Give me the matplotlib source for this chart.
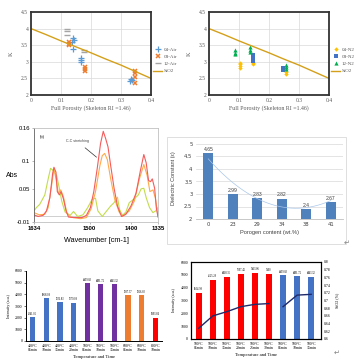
import numpy as np
import matplotlib.pyplot as plt
from matplotlib.patches import Rectangle

W, H = 358, 364

# --- top panels: K vs porosity ---
sio2_x = [0, 0.05, 0.1, 0.15, 0.2, 0.25, 0.3, 0.35, 0.4]
sio2_k = [4.0, 3.82, 3.63, 3.45, 3.27, 3.08, 2.9, 2.7, 2.5]

air04_x = [0.14, 0.142, 0.138, 0.14, 0.165, 0.167, 0.165, 0.333, 0.336, 0.33]
air04_k = [3.72, 3.65, 3.6, 3.4, 3.12, 3.05, 2.98, 2.47, 2.44, 2.41]
air08_x = [0.125, 0.127, 0.125, 0.18, 0.18, 0.18, 0.345, 0.345, 0.345, 0.345]
air08_k = [3.6, 3.55, 3.5, 2.85, 2.78, 2.72, 2.72, 2.65, 2.55, 2.35]
air12_x = [0.12, 0.12, 0.12, 0.178, 0.178]
air12_k = [3.98, 3.93, 3.82, 3.35, 3.3]

n04_x = [0.102, 0.102, 0.102, 0.102, 0.145, 0.145, 0.145, 0.255, 0.255]
n04_k = [2.97, 2.92, 2.86, 2.8, 2.98, 2.95, 2.92, 2.7, 2.64]
n08_x = [0.148, 0.148, 0.148, 0.245, 0.245]
n08_k = [3.2, 3.1, 3.03, 2.8, 2.74]
n12_x = [0.088, 0.088, 0.088, 0.138, 0.138, 0.138, 0.255, 0.255, 0.255]
n12_k = [3.35, 3.28, 3.22, 3.44, 3.36, 3.3, 2.9, 2.83, 2.77]

# --- FTIR spectrum ---
red_wn = [1634, 1624.2, 1612.0, 1603.9, 1595.7, 1589.2, 1585.9, 1581.0, 1577.8, 1572.9,
          1568.8, 1563.1, 1556.6, 1550.9, 1538.7, 1518.3, 1507.7, 1498.0, 1489.8, 1481.7,
          1473.5, 1467.0, 1461.3, 1455.6, 1449.1, 1440.9, 1432.8, 1423.0, 1412.4, 1400.2,
          1388.0, 1377.4, 1369.2, 1363.5, 1357.8, 1352.9, 1348.8, 1343.1, 1339.1, 1335]
red_abs = [0.003, 0.0, 0.002, 0.010, 0.034, 0.077, 0.089, 0.080, 0.045, 0.039,
           0.045, 0.032, 0.010, -0.001, -0.002, -0.002, 0.002, 0.016, 0.045, 0.086,
           0.132, 0.154, 0.141, 0.126, 0.092, 0.051, 0.019, 0.0, 0.004, 0.019,
           0.042, 0.083, 0.112, 0.097, 0.065, 0.063, 0.068, 0.051, 0.016, -0.001]
org_wn = [1634, 1621.8, 1607.9, 1599.8, 1591.6, 1585.9, 1581.0, 1575.3, 1569.6, 1563.1,
          1555.0, 1546.8, 1522.4, 1507.7, 1496.3, 1485.7, 1475.1, 1469.4, 1463.7, 1457.2,
          1449.1, 1439.3, 1428.7, 1420.5, 1404.3, 1392.0, 1379.8, 1369.2, 1361.1, 1354.5,
          1347.2, 1341.5, 1335]
org_abs = [0.007, 0.003, 0.004, 0.016, 0.056, 0.087, 0.068, 0.042, 0.048, 0.036,
           0.007, -0.001, -0.004, -0.002, 0.014, 0.045, 0.092, 0.110, 0.114, 0.103,
           0.068, 0.031, 0.008, 0.0, 0.010, 0.028, 0.068, 0.094, 0.074, 0.045,
           0.048, 0.034, 0.0]
grn_wn = [1634, 1628.3, 1620.1, 1607.9, 1599.8, 1594.1, 1587.6, 1579.4, 1572.9, 1567.2,
          1559.0, 1546.8, 1538.7, 1528.9, 1515.9, 1504.5, 1493.9, 1485.7, 1480.0, 1469.4,
          1458.8, 1449.1, 1440.9, 1432.8, 1427.9, 1420.5, 1412.4, 1404.3, 1392.0, 1382.3,
          1375.7, 1369.2, 1363.5, 1355.4, 1347.2, 1340.7, 1335]
grn_abs = [0.010, 0.016, 0.022, 0.039, 0.068, 0.087, 0.083, 0.074, 0.051, 0.028,
           0.008, 0.002, 0.009, 0.0, 0.003, 0.016, 0.031, 0.033, 0.010, 0.0,
           0.010, 0.019, 0.025, 0.035, 0.013, 0.002, 0.008, 0.025, 0.032, 0.039,
           0.050, 0.051, 0.034, 0.016, 0.007, 0.010, 0.016]

# --- dielectric constant bars ---
porogen = ['0', '23', '29', '34', '38', '41']
dielec = [4.65, 2.99, 2.83, 2.82, 2.4, 2.67]

# --- intensity bars ---
cond5 = ['400°C\n05min', '400°C\n10min', '400°C\n15min', '400°C\n20min', '500°C\n05min',
         '500°C\n10min', '500°C\n15min', '600°C\n05min', '600°C\n10min', '800°C\n10min']
inten5 = [2041.05, 3668.08, 3336.83, 3279.08, 4959.83, 4891.72, 4843.32, 3937.37, 3926.83, 1993.84]
col5 = ['#4472c4'] * 4 + ['#7030a0'] * 3 + ['#ed7d31'] * 2 + ['#ff0000']

cond6 = ['500°C\n05min', '500°C\n10min', '500°C\n15min', '500°C\n20min', '500°C\n25min',
         '500°C\n30min', '500°C\n05min', '500°C\n10min', '500°C\n15min']
inten6 = [3604.99, 4625.29, 4868.35, 5097.46, 5163.86, 5100, 4959.83, 4891.72, 4843.32]
col6 = ['#ff0000'] * 6 + ['#4472c4'] * 3
ratio_a = [0.628, 0.66, 0.671, 0.684, 0.69, 0.692]
ratio_b = [0.684, 0.714, 0.716]


def box(l, t, r, b):
    return [l / W, 1 - b / H, (r - l) / W, (b - t) / H]


fig = plt.figure(figsize=(W / 100, H / 100), dpi=100)
serif = 'Liberation Serif'
sans = 'Liberation Sans'
grey = '#595959'


def k_panel(rect, series, legend_x):
    ax = fig.add_axes(rect)
    ax.grid(True, color='#d9d9d9', lw=0.5)
    ax.set_axisbelow(True)
    for x, y, kw in series:
        ax.plot(x, y, ls='none', **kw)
    ax.plot(sio2_x, sio2_k, color='#d4a019', lw=1.0, label='SiO2')
    ax.set_xlim(0, 0.4)
    ax.set_ylim(2, 4.5)
    ax.set_xticks([0, 0.1, 0.2, 0.3, 0.4])
    ax.set_xticklabels(['0', '0.1', '0.2', '0.3', '0.4'])
    ax.set_yticks([2, 2.5, 3, 3.5, 4, 4.5])
    ax.set_yticklabels(['2', '2.5', '3', '3.5', '4', '4.5'])
    ax.tick_params(length=0, pad=2, labelsize=4, labelcolor=grey)
    for lab in ax.get_xticklabels() + ax.get_yticklabels():
        lab.set_family(serif)
    for s in ax.spines.values():
        s.set_color('#333333')
        s.set_linewidth(1.3)
    ax.set_xlabel('Full Porosity (Skeleton RI =1.46)', fontsize=4.2, family=serif,
                  color=grey, labelpad=2)
    ax.set_ylabel('K', fontsize=4.5, family=serif, color=grey, labelpad=5)
    ax.legend(loc='center left', bbox_to_anchor=(legend_x, 0.42), frameon=False,
              prop={'family': serif, 'size': 3.6}, labelcolor=grey,
              handlelength=1.8, handletextpad=0.3, labelspacing=0.55, borderaxespad=0)
    return ax


k_panel(box(31, 12, 151, 95), [
    (air04_x, air04_k, dict(marker='+', color='#5b9bd5', ms=4, mew=0.9, label='04-Air')),
    (air08_x, air08_k, dict(marker='x', color='#ed7d31', ms=3.5, mew=1.1, label='08-Air')),
    (air12_x, air12_k, dict(marker='_', color='#a5a5a5', ms=4, mew=1.0, label='12-Air')),
], 1.0)

k_panel(box(209, 12, 329, 95), [
    (n04_x, n04_k, dict(marker='D', color='#ffc000', ms=2.2, mew=0, label='04-N2')),
    (n08_x, n08_k, dict(marker='s', color='#4472c4', ms=3.5, mew=0, label='08-N2')),
    (n12_x, n12_k, dict(marker='^', color='#00b050', ms=3, mew=0, label='12-N2')),
], 1.0)

# FTIR
ax3 = fig.add_axes(box(34, 128, 158, 222))
ax3.axhline(0, color='#c8c8c8', lw=0.6)
ax3.plot(grn_wn, grn_abs, color='#c3dc4c', lw=0.8)
ax3.plot(org_wn, org_abs, color='#ffab4a', lw=0.8)
ax3.plot(red_wn, red_abs, color='#f45b5b', lw=0.8)
ax3.set_xlim(1634, 1335)
ax3.set_ylim(-0.01, 0.16)
ax3.set_xticks([1634, 1500, 1400, 1335])
ax3.set_yticks([-0.01, 0.05, 0.1, 0.16])
ax3.set_yticklabels(['-0.01', '0.05', '0.1', '0.16'])
ax3.tick_params(length=1.5, width=0.4, pad=1.5, labelsize=4.2, color='#808080')
for lab in ax3.get_xticklabels() + ax3.get_yticklabels():
    lab.set_family(sans)
for lab in ax3.get_xticklabels():
    lab.set_fontweight('bold')
for s in ax3.spines.values():
    s.set_color('#c0c0c0')
    s.set_linewidth(0.6)
ax3.spines['left'].set_color('#606060')
ax3.set_ylabel('Abs', fontsize=5, family=sans, rotation=0, labelpad=3, va='center')
ax3.set_xlabel('Wavenumber [cm-1]', fontsize=5.2, family=sans, labelpad=4)
ax3.text(0.05, 0.93, '(b)', transform=ax3.transAxes, fontsize=3, family=sans, va='top')
ax3.annotate('C-C stretching', xy=(1478, 0.104), xytext=(1530, 0.136),
             fontsize=2.6, family=sans, color='#404040', ha='center', va='center',
             arrowprops=dict(arrowstyle='-', color='#303030', lw=0.5))

# dielectric constant
fig.add_artist(Rectangle((167 / W, 1 - 244 / H), (346 - 167) / W, (244 - 137) / H,
                         transform=fig.transFigure, fill=False, ec='#d9d9d9', lw=0.6))
ax4 = fig.add_axes(box(196, 144, 343, 219))
xi = np.arange(len(dielec))
ax4.bar(xi, dielec, width=0.4, color='#4f81bd', zorder=2)
coef = np.polyfit(xi, dielec, 2)
xs = np.linspace(0, len(dielec) - 1, 60)
ax4.plot(xs, np.polyval(coef, xs), color='#a9c6ea', lw=0.5, zorder=3)
for i, v in enumerate(dielec):
    ax4.text(i, v + 0.04, f'{v:g}', ha='center', va='bottom', fontsize=3.6,
             family=sans, color='#404040')
ax4.set_xlim(-0.5, len(dielec) - 0.5)
ax4.set_ylim(2, 5)
ax4.set_xticks(xi)
ax4.set_xticklabels(porogen)
ax4.set_yticks([2, 2.5, 3, 3.5, 4, 4.5, 5])
ax4.set_yticklabels(['2', '2.5', '3', '3.5', '4', '4.5', '5'])
ax4.yaxis.grid(True, color='#d9d9d9', lw=0.5)
ax4.set_axisbelow(True)
ax4.tick_params(length=0, pad=2.5, labelsize=3.8, labelcolor='#404040')
for s in ['left', 'right', 'top']:
    ax4.spines[s].set_visible(False)
ax4.spines['bottom'].set_color('#bfbfbf')
ax4.spines['bottom'].set_linewidth(0.6)
ax4.set_xlabel('Porogen content (wt.%)', fontsize=4.1, family=sans, color='#404040',
               labelpad=2)
fig.text(173 / W, 1 - 178 / H, 'Dielectric Constant (ε)', rotation=90, ha='center',
         va='center', fontsize=4, family=sans, color='#404040')

# intensity, bottom left
ax5 = fig.add_axes(box(26, 271, 162, 341))
x5 = np.arange(len(inten5))
ax5.bar(x5, inten5, width=0.38, color=col5)
for i, v in enumerate(inten5):
    ax5.text(i, v + 120, f'{v:.2f}', ha='center', va='bottom', fontsize=2, family=serif)
ax5.set_xlim(-0.5, len(inten5) - 0.5)
ax5.set_ylim(0, 6000)
ax5.set_yticks(range(0, 6001, 1000))
ax5.set_xticks(x5)
ax5.set_xticklabels(cond5, linespacing=1.0)
ax5.tick_params(axis='y', length=1.5, width=0.4, pad=1, labelsize=2.8)
ax5.tick_params(axis='x', length=0, pad=2, labelsize=2.8)
for lab in ax5.get_xticklabels() + ax5.get_yticklabels():
    lab.set_family(serif)
for s in ['right', 'top']:
    ax5.spines[s].set_visible(False)
for s in ['left', 'bottom']:
    ax5.spines[s].set_linewidth(0.7)
ax5.set_xlabel('Temperature and Time', fontsize=3.3, family=serif, labelpad=2)
ax5.set_ylabel('Intensity (a.u.)', fontsize=3, family=serif, labelpad=3)

# intensity + ratio, bottom right
ax6 = fig.add_axes(box(191, 262, 321, 339))
x6 = np.arange(len(inten6))
ax6.bar(x6, inten6, width=0.45, color=col6)
for i, v in enumerate(inten6):
    ax6.text(i, v + 120, f'{v:g}' if v == int(v) else f'{v:.2f}', ha='center',
             va='bottom', fontsize=2, family=serif)
ax6.set_xlim(-0.55, len(inten6) - 0.3)
ax6.set_ylim(0, 6000)
ax6.set_yticks(range(0, 6001, 1000))
ax6.set_xticks(x6)
ax6.set_xticklabels(cond6, linespacing=1.0)
ax6.tick_params(axis='y', length=0, pad=2, labelsize=2.8)
ax6.tick_params(axis='x', length=0, pad=2, labelsize=2.8)
for lab in ax6.get_xticklabels() + ax6.get_yticklabels():
    lab.set_family(serif)
for s in ax6.spines.values():
    s.set_linewidth(0.8)
ax6.set_xlabel('Temperature and Time', fontsize=3.3, family=serif, labelpad=2)
ax6.set_ylabel('Intensity (a.u.)', fontsize=3, family=serif, labelpad=3)
ax6r = ax6.twinx()
ax6r.plot(x6[:6], ratio_a, color='#1f2a6b', lw=1.0)
ax6r.plot(x6[6:], ratio_b, color='#1f2a6b', lw=1.0)
ax6r.set_ylim(0.6, 0.8)
ax6r.set_yticks(np.round(np.arange(0.6, 0.801, 0.02), 2))
ax6r.set_yticklabels([f'{t:g}' for t in np.round(np.arange(0.6, 0.801, 0.02), 2)])
ax6r.tick_params(length=0, pad=2, labelsize=2.8)
for lab in ax6r.get_yticklabels():
    lab.set_family(serif)
ax6r.set_ylabel('SiO2 (%)', fontsize=3, family=serif, labelpad=3)

# paragraph marks
fig.text(347 / W, 1 - 243 / H, '↵', fontsize=5, color='#808080', ha='center', va='center')
fig.text(337 / W, 1 - 353 / H, '↵', fontsize=5, color='#808080', ha='center', va='center')

fig.savefig('out.png', dpi=100)
